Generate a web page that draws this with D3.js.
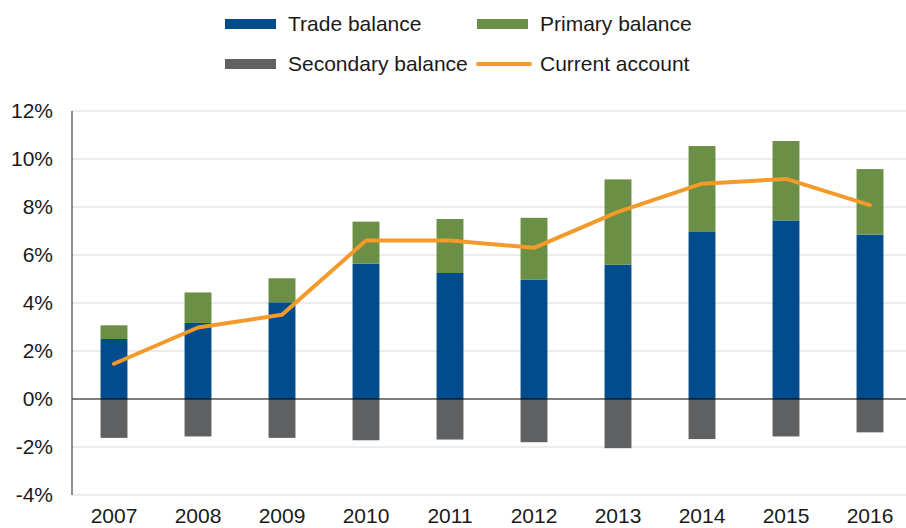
<!DOCTYPE html>
<html>
<head>
<meta charset="utf-8">
<script src="https://cdn.jsdelivr.net/npm/d3@7"></script>
<style>
  body { margin: 0; background: #fff; }
  svg { font-family: "Liberation Sans", Arial, sans-serif; }
</style>
</head>
<body>
<div id="chart"></div>
<script>
const years = ["2007","2008","2009","2010","2011","2012","2013","2014","2015","2016"]
const trade = [2.5, 3.17, 4.03, 5.64, 5.25, 4.98, 5.6, 6.96, 7.44, 6.85]
const primary = [0.57, 1.27, 1.0, 1.75, 2.25, 2.57, 3.55, 3.58, 3.31, 2.73]
const secondary = [-1.62, -1.56, -1.62, -1.72, -1.69, -1.8, -2.05, -1.67, -1.56, -1.39]
const current = [1.47, 2.98, 3.51, 6.6, 6.6, 6.3, 7.8, 8.97, 9.17, 8.08]
const yTicks = [-4, -2, 0, 2, 4, 6, 8, 10, 12]

const width = 906, height = 528
const colors = {trade: "#004c8c", primary: "#6a8f45", secondary: "#5f6062", current: "#f39a2b"}
const fontSize = 21

const svg = d3.select("#chart").append("svg")
    .attr("width", width).attr("height", height)

const x = d3.scaleBand().domain(years).range([72, 912]).paddingInner(0.68).paddingOuter(0.34)
const y = d3.scaleLinear().domain([-4, 12]).range([495, 111])

// gridlines
svg.append("g")
  .selectAll("line")
  .data(yTicks.filter(d => d !== 0))
  .join("line")
    .attr("x1", 72).attr("x2", width)
    .attr("y1", d => y(d)).attr("y2", d => y(d))
    .attr("stroke", "#d9d9d9").attr("stroke-width", 1)

// y labels
svg.append("g")
  .selectAll("text")
  .data(yTicks)
  .join("text")
    .attr("x", 53).attr("y", d => y(d))
    .attr("dy", "0.35em")
    .attr("text-anchor", "end")
    .attr("font-size", fontSize).attr("fill", "#1a1a1a")
    .text(d => d + "%")

// bars
const bars = svg.append("g")
bars.selectAll(".trade").data(years).join("rect")
    .attr("x", d => x(d)).attr("width", x.bandwidth())
    .attr("y", (d, i) => y(trade[i])).attr("height", (d, i) => y(0) - y(trade[i]))
    .attr("fill", colors.trade)
bars.selectAll(".primary").data(years).join("rect")
    .attr("x", d => x(d)).attr("width", x.bandwidth())
    .attr("y", (d, i) => y(trade[i] + primary[i])).attr("height", (d, i) => y(trade[i]) - y(trade[i] + primary[i]))
    .attr("fill", colors.primary)
bars.selectAll(".secondary").data(years).join("rect")
    .attr("x", d => x(d)).attr("width", x.bandwidth())
    .attr("y", y(0)).attr("height", (d, i) => y(secondary[i]) - y(0))
    .attr("fill", colors.secondary)

// zero line and axis
svg.append("line")
    .attr("x1", 72).attr("x2", width).attr("y1", y(0)).attr("y2", y(0))
    .attr("stroke", "#000").attr("stroke-width", 1.2)
svg.append("line")
    .attr("x1", 72).attr("x2", 72).attr("y1", y(12)).attr("y2", y(-4))
    .attr("stroke", "#444").attr("stroke-width", 1.2)

// current account line
const line = d3.line()
    .x((d, i) => x(years[i]) + x.bandwidth() / 2)
    .y(d => y(d))
svg.append("path")
    .datum(current)
    .attr("d", line)
    .attr("fill", "none")
    .attr("stroke", colors.current)
    .attr("stroke-width", 4)
    .attr("stroke-linecap", "round")
    .attr("stroke-linejoin", "round")

// x labels
svg.append("g")
  .selectAll("text")
  .data(years)
  .join("text")
    .attr("x", d => x(d) + x.bandwidth() / 2).attr("y", 523)
    .attr("text-anchor", "middle")
    .attr("font-size", fontSize).attr("fill", "#1a1a1a")
    .text(d => d)

// legend
const legend = [
  {name: "Trade balance", color: colors.trade, x: 225, y: 24, type: "rect"},
  {name: "Primary balance", color: colors.primary, x: 477, y: 24, type: "rect"},
  {name: "Secondary balance", color: colors.secondary, x: 225, y: 64, type: "rect"},
  {name: "Current account", color: colors.current, x: 477, y: 64, type: "line"}
]
const lg = svg.append("g").selectAll("g").data(legend).join("g")
    .attr("transform", d => `translate(${d.x},${d.y})`)
lg.filter(d => d.type === "rect").append("rect")
    .attr("x", 0).attr("y", -5).attr("width", 51).attr("height", 10)
    .attr("fill", d => d.color)
lg.filter(d => d.type === "line").append("line")
    .attr("x1", 1).attr("x2", 53).attr("y1", 0).attr("y2", 0)
    .attr("stroke", d => d.color).attr("stroke-width", 4).attr("stroke-linecap", "round")
lg.append("text")
    .attr("x", 63).attr("y", 0).attr("dy", "0.35em")
    .attr("font-size", fontSize).attr("fill", "#1a1a1a")
    .text(d => d.name)
</script>
</body>
</html>
